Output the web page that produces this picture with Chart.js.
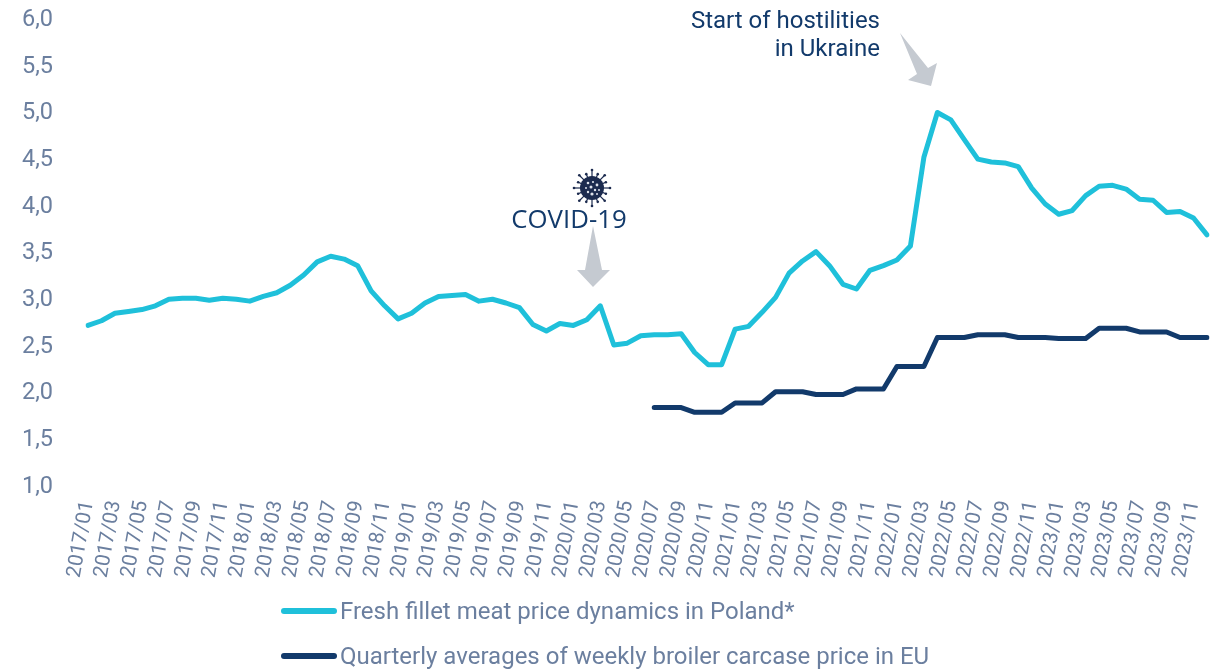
<!DOCTYPE html>
<html><head><meta charset="utf-8">
<script src="https://cdn.jsdelivr.net/npm/chart.js@4"></script>
<style>
html,body{margin:0;padding:0;background:#fff;width:1218px;height:670px;overflow:hidden}
#wrap{position:relative;width:1218px;height:670px}
canvas{position:absolute;left:0;top:0}
.lg{position:absolute;left:281px;height:30px;display:flex;align-items:center;font:24px Roboto,sans-serif;color:#6b7f9f;white-space:nowrap}
.lg i{display:block;width:56px;height:6px;border-radius:3px;margin-right:3px}
</style></head><body>
<div id="wrap"><canvas id="c" width="1218" height="670"></canvas>
<div id="legend"></div></div>
<script>
const years=[2017,2018,2019,2020,2021,2022,2023];
const categories=[];
years.forEach(y=>{for(let m=1;m<=12;m++)categories.push(y+'/'+String(m).padStart(2,'0'));});
const seriesNames=['Fresh fillet meat price dynamics in Poland*','Quarterly averages of weekly broiler carcase price in EU'];
const filletPrice=[2.73,2.78,2.86,2.88,2.90,2.94,3.01,3.02,3.02,3.00,3.02,3.01,
2.99,3.04,3.08,3.16,3.27,3.41,3.47,3.44,3.37,3.10,2.94,2.80,
2.86,2.97,3.04,3.05,3.06,2.99,3.01,2.97,2.92,2.74,2.67,2.75,
2.73,2.79,2.94,2.52,2.54,2.62,2.63,2.63,2.64,2.44,2.31,2.31,
2.69,2.72,2.87,3.03,3.29,3.42,3.52,3.37,3.17,3.12,3.32,3.37,
3.43,3.58,4.53,5.01,4.93,4.72,4.51,4.48,4.47,4.43,4.20,4.03,
3.92,3.96,4.12,4.22,4.23,4.19,4.08,4.07,3.94,3.95,3.88,3.70];
const carcasePrice=[null,null,null,null,null,null,null,null,null,null,null,null,
null,null,null,null,null,null,null,null,null,null,null,null,
null,null,null,null,null,null,null,null,null,null,null,null,
null,null,null,null,null,null,1.85,1.85,1.85,1.80,1.80,1.80,
1.90,1.90,1.90,2.02,2.02,2.02,1.99,1.99,1.99,2.05,2.05,2.05,
2.29,2.29,2.29,2.60,2.60,2.60,2.63,2.63,2.63,2.60,2.60,2.60,
2.59,2.59,2.59,2.70,2.70,2.70,2.66,2.66,2.66,2.60,2.60,2.60];
const colors=['#1fc0da','#123a6b'];
const tickColor='#6b7f9f';

const legendTops=[596,641];
document.getElementById('legend').innerHTML=seriesNames.map((n,i)=>
 `<div class="lg" style="top:${legendTops[i]}px"><i style="background:${colors[i]}"></i>${n}</div>`).join('');

const annotations={
 id:'annotations',
 afterDatasetsDraw(chart){
  const c=chart.ctx;
  const poly=(pts,col)=>{c.beginPath();pts.forEach((p,i)=>i?c.lineTo(p[0],p[1]):c.moveTo(p[0],p[1]));c.closePath();c.fillStyle=col;c.fill();};
  c.save();
  poly([[593,226],[585,270],[577,270],[593,287],[610,270],[602,270]],'#c5cad1');
  poly([[900,33],[928,68],[937,63],[931,86],[908,80],[917,74]],'#c5cad1');
  c.fillStyle='#123a6b';c.textBaseline='alphabetic';
  c.textAlign='center';c.font='25.8px "Open Sans"';c.fillText('COVID-19',569,228);
  c.textAlign='right';c.font='24px Roboto';
  c.fillText('Start of hostilities',880,28);c.fillText('in Ukraine',880,56);
  // virus icon
  const vx=592,vy=188,vc='#1c2b4f';
  c.strokeStyle=vc;c.fillStyle=vc;c.lineWidth=1.2;
  for(let k=0;k<16;k++){const a=k/16*2*Math.PI,r=k%2?15:18;
   c.beginPath();c.moveTo(vx+10*Math.cos(a),vy+10*Math.sin(a));c.lineTo(vx+r*Math.cos(a),vy+r*Math.sin(a));c.stroke();
   c.beginPath();c.arc(vx+r*Math.cos(a),vy+r*Math.sin(a),1.3,0,7);c.fill();}
  c.beginPath();c.arc(vx,vy,12,0,7);c.fill();
  c.fillStyle='#dfe3ec';
  [[-4,-5,1.3],[1,-6,1.1],[5,-3,1.4],[-6,0,1],[-1,-1,1.5],[3,2,1.2],[7,2,1],[-4,4,1.2],[0,6,1.6],[5,6,1]].forEach(d=>{c.beginPath();c.arc(vx+d[0],vy+d[1],d[2],0,7);c.fill();});
  c.restore();
 }
};

new Chart(document.getElementById('c'),{
 type:'line',
 data:{labels:categories,datasets:[
  {label:seriesNames[0],data:filletPrice,borderColor:colors[0],backgroundColor:colors[0],borderWidth:5,pointRadius:0,tension:0,borderJoinStyle:'round',borderCapStyle:'round'},
  {label:seriesNames[1],data:carcasePrice,borderColor:colors[1],backgroundColor:colors[1],borderWidth:5,pointRadius:0,tension:0,borderJoinStyle:'round',borderCapStyle:'round'}
 ]},
 options:{
  responsive:false,animation:false,
  layout:{padding:{left:0,right:11,top:20,bottom:0}},
  plugins:{legend:{display:false},tooltip:{enabled:false}},
  scales:{
   x:{type:'category',offset:false,grid:{display:false,drawTicks:false},border:{display:false},
      afterFit(s){s.height=183;s.paddingLeft=0;s.paddingRight=0;},
      ticks:{autoSkip:false,minRotation:80,maxRotation:80,padding:12,color:tickColor,font:{family:'Roboto',size:20.5},
       callback(v,i){return i%2===0?this.getLabelForValue(v):'';}}},
   y:{min:1,max:6,grid:{display:false,drawTicks:false},border:{display:false},
      afterFit(s){s.width=88;s.paddingTop=0;s.paddingBottom=0;},
      ticks:{stepSize:0.5,padding:35,color:tickColor,font:{family:'Roboto',size:23.5},
       callback(v){return v.toFixed(1).replace('.',',');}}}
  }
 },
 plugins:[annotations]
});
</script></body></html>
